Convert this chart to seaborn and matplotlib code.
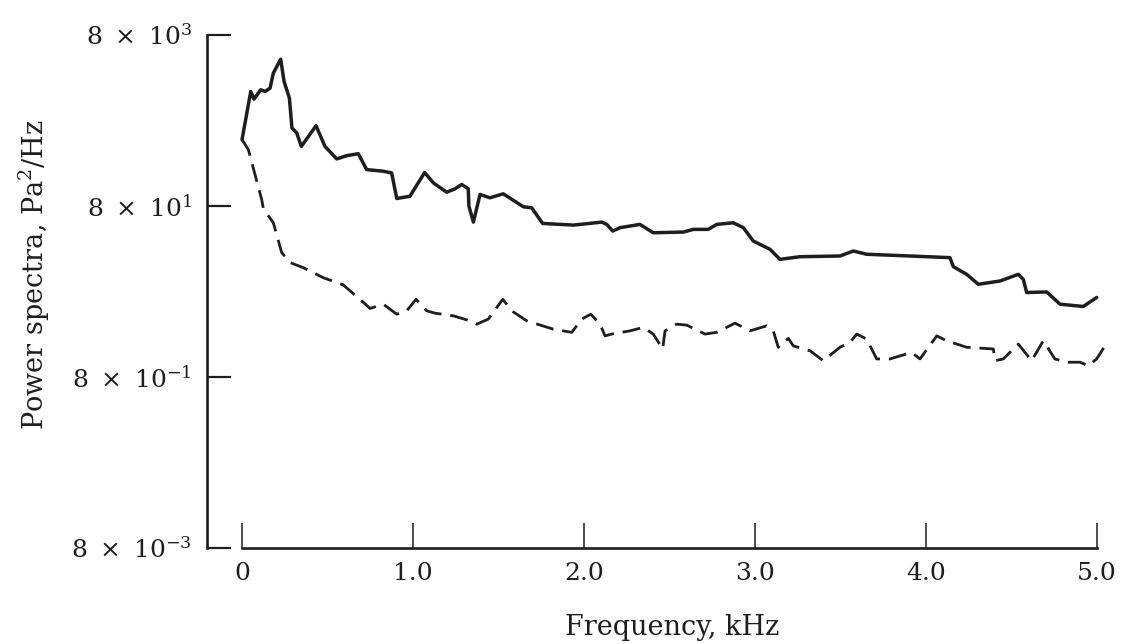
import numpy as np
import pandas as pd
import matplotlib
matplotlib.use("Agg")
import matplotlib.pyplot as plt
import seaborn as sns

# Frequency (kHz) and power spectral density (Pa^2/Hz), upper curve
freq_solid = [0.000, 0.051, 0.070, 0.109, 0.135, 0.164, 0.183, 0.226, 0.246, 0.277,
              0.292, 0.320, 0.347, 0.433, 0.485, 0.554, 0.612, 0.680, 0.729, 0.826,
              0.875, 0.905, 0.982, 1.068, 1.119, 1.197, 1.246, 1.285, 1.323, 1.327,
              1.353, 1.392, 1.450, 1.528, 1.645, 1.694, 1.758, 1.937, 2.104, 2.133,
              2.168, 2.211, 2.327, 2.405, 2.581, 2.639, 2.727, 2.776, 2.873, 2.932,
              2.990, 3.088, 3.146, 3.263, 3.497, 3.575, 3.653, 4.140, 4.160, 4.238,
              4.306, 4.433, 4.540, 4.569, 4.589, 4.706, 4.784, 4.920, 4.998]
psd_solid = [477, 1746, 1422, 1828, 1746, 1912, 2860, 4165, 2283, 1462,
             653, 571, 398, 695, 398, 284, 310, 327, 213, 204,
             195, 97.8, 104, 197, 149, 116, 127, 143, 127, 79.6,
             51.8, 109, 99.7, 111, 78.3, 76.2, 50.0, 47.8, 51.8, 48.7,
             40.7, 44.6, 48.7, 38.9, 39.6, 42.6, 42.6, 48.7, 50.9, 44.6,
             31.1, 24.9, 19.0, 20.4, 20.8, 23.8, 21.8, 19.9, 15.6, 12.7,
             9.72, 10.6, 12.7, 11.1, 7.78, 7.90, 5.68, 5.34, 6.80]

# Lower (dashed) curve
freq_dashed = [0.000, 0.037, 0.115, 0.125, 0.183, 0.232, 0.281, 0.358, 0.475, 0.592,
               0.700, 0.749, 0.826, 0.905, 0.963, 1.018, 1.080, 1.129, 1.236, 1.333,
               1.373, 1.440, 1.525, 1.577, 1.665, 1.820, 1.928, 1.987, 2.039, 2.094,
               2.123, 2.162, 2.269, 2.347, 2.405, 2.460, 2.474, 2.542, 2.601, 2.708,
               2.776, 2.883, 2.971, 3.068, 3.107, 3.136, 3.195, 3.224, 3.322, 3.399,
               3.497, 3.556, 3.595, 3.653, 3.712, 3.789, 3.916, 3.965, 4.063, 4.121,
               4.238, 4.394, 4.404, 4.452, 4.540, 4.618, 4.686, 4.754, 4.823, 4.901,
               4.949, 4.998, 5.066]
psd_dashed = [477, 365, 95.2, 74.2, 50.9, 22.8, 17.4, 15.2, 11.6, 9.54,
              6.21, 5.06, 5.68, 4.34, 4.75, 6.49, 4.75, 4.46, 4.15, 3.63,
              3.32, 3.80, 6.49, 4.75, 3.63, 2.90, 2.66, 3.80, 4.34, 3.32,
              2.42, 2.54, 2.77, 3.04, 2.54, 1.70, 2.77, 3.32, 3.23, 2.54,
              2.66, 3.41, 2.77, 3.17, 2.77, 1.78, 2.26, 1.85, 1.62, 1.24,
              1.78, 2.03, 2.54, 2.22, 1.30, 1.30, 1.55, 1.30, 2.42, 2.12,
              1.78, 1.70, 1.24, 1.30, 1.94, 1.24, 2.12, 1.30, 1.19, 1.19,
              1.08, 1.30, 2.12]

x_ticks = [0, 1.0, 2.0, 3.0, 4.0, 5.0]
x_tick_labels = ["0", "1.0", "2.0", "3.0", "4.0", "5.0"]
y_ticks = [8e-3, 8e-1, 8e1, 8e3]
y_tick_labels = [r"$8\ \times\ 10^{-3}$", r"$8\ \times\ 10^{-1}$",
                 r"$8\ \times\ 10^{1}$", r"$8\ \times\ 10^{3}$"]

sns.set_style("white")
plt.rcParams["font.family"] = ["DejaVu Serif"]
plt.rcParams["mathtext.fontset"] = "dejavuserif"

fig = plt.figure(figsize=(11.23, 6.44), dpi=100)
ax = fig.add_axes([0.1843, 0.1491, 0.8047, 0.7966])

ink = "#1e1e1e"
df_s = pd.DataFrame({"f": freq_solid, "p": psd_solid})
df_d = pd.DataFrame({"f": freq_dashed, "p": psd_dashed})
sns.lineplot(data=df_s, x="f", y="p", ax=ax, color=ink, linewidth=2.5,
             estimator=None, sort=False)
sns.lineplot(data=df_d, x="f", y="p", ax=ax, color=ink, linewidth=2.0,
             estimator=None, sort=False, linestyle=(0, (6.5, 3.2)))

ax.set_yscale("log")
ax.set_xlim(-0.205, 5.08)
ax.set_ylim(8e-3, 8e3)
ax.minorticks_off()

ax.set_xticks(x_ticks)
ax.set_xticklabels(x_tick_labels)
ax.set_yticks(y_ticks)
ax.set_yticklabels(y_tick_labels)

for side in ("top", "right"):
    ax.spines[side].set_visible(False)
for side in ("left", "bottom"):
    ax.spines[side].set_color(ink)
    ax.spines[side].set_linewidth(1.9)
ax.spines["bottom"].set_bounds(0, 5.0)

ax.tick_params(axis="y", left=True, direction="in", length=17, width=1.6, color=ink,
               labelsize=18, pad=11, labelcolor=ink)
ax.tick_params(axis="x", bottom=True, direction="in", length=18, width=1.1, color=ink,
               labelsize=18, pad=10, labelcolor=ink)

ax.set_xlabel("Frequency, kHz", fontsize=19.5, color=ink)
ax.xaxis.set_label_coords(0.515, -0.128)
ax.set_ylabel(r"Power spectra, Pa$^2$/Hz", fontsize=19.5, color=ink)
ax.yaxis.set_label_coords(-0.1715, 0.532)

fig.savefig("out.png", dpi=100, facecolor="white")
